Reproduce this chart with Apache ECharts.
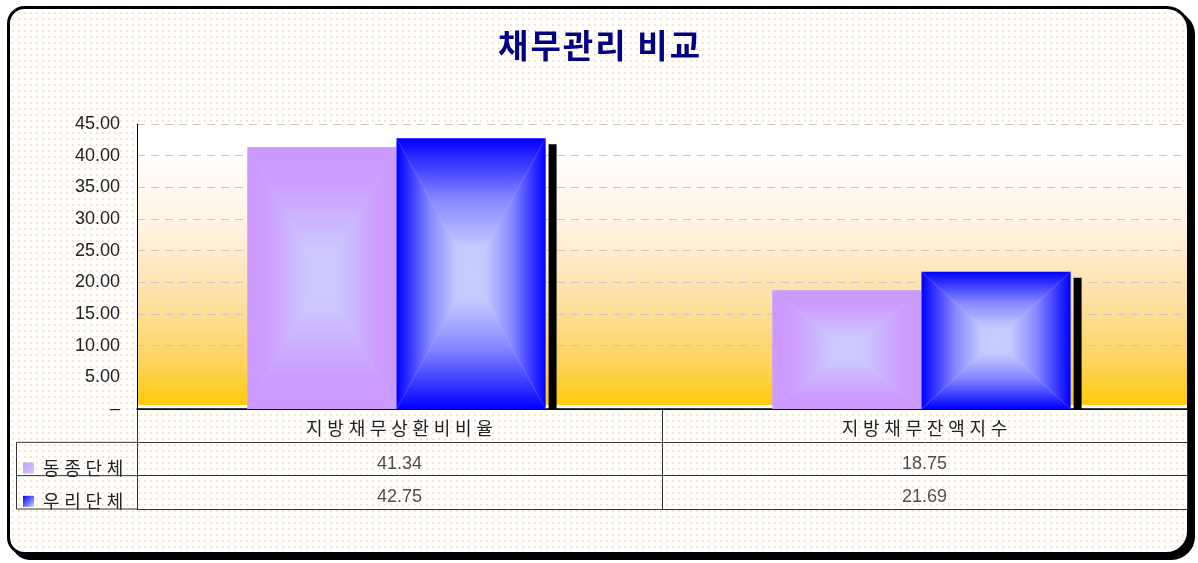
<!DOCTYPE html>
<html>
<head>
<meta charset="utf-8">
<script src="https://cdn.jsdelivr.net/npm/echarts@6/dist/echarts.min.js"></script>
<style>
  html, body { margin: 0; padding: 0; background: #fff; }
  #main { width: 1198px; height: 563px; }
</style>
</head>
<body>
<div id="main"></div>
<script>
// 데이터
var categories = ["지방채무상환비비율", "지방채무잔액지수"];
var seriesNames = ["동종단체", "우리단체"];
var peerValues = [41.34, 18.75];
var ourValues = [42.75, 21.69];
var yMax = 45;
var yStep = 5;

var FONT = "Liberation Sans, Noto Sans CJK KR, sans-serif";
var KFONT = "Noto Sans CJK KR, sans-serif";

// 레이아웃
var plotLeft = 137, plotRight = 11, plotTop = 124, plotZero = 409;
var tableBottom = 509;
var legendColLeft = 16;
var rowH = (tableBottom - plotZero) / 3;

// 한글 자간
function spaced(s, gap) {
  return s.split("").join(gap || "\u2009\u200A");
}

// 배경 점 패턴
var dot = document.createElement("canvas");
dot.width = 6;
dot.height = 6;
var dctx = dot.getContext("2d");
dctx.fillStyle = "#ffffff";
dctx.fillRect(0, 0, 6, 6);
dctx.fillStyle = "#fde3bf";
dctx.fillRect(0, 0, 2, 2);

// 가장자리 -> 중심 색
function stops(list) {
  return list.map(function (s) { return { offset: s[0], color: s[1] }; });
}

// 사각 그라데이션 막대 (가장자리에서 중심점으로)
function boxBar(colorStops, center, side, shadow) {
  return function (params, api) {
    var idx = api.value(0);
    var val = api.value(1);
    var top = api.coord([idx, val]);
    var base = api.coord([idx, 0]);
    var band = api.size([1, 0])[0];
    var bw = band * 0.284;
    var L = top[0] - 3 + (side < 0 ? -bw : 0);
    var R = L + bw;
    var T = top[1];
    var B = base[1];
    var cx = (L + R) / 2;
    var cy = (T + B) / 2;
    var G = echarts.graphic.LinearGradient;
    var st = stops(colorStops);
    var children = [];
    if (shadow) {
      children.push({
        type: "rect",
        shape: { x: R + 3, y: T + 6, width: 8, height: B - T - 6 },
        style: { fill: "#000" },
      });
    }
    children.push({
      type: "rect",
      shape: { x: L, y: T, width: bw, height: B - T },
      style: { fill: center },
    });
    children.push({
      type: "polygon",
      shape: { points: [[L, T], [R, T], [cx, cy]] },
      style: { fill: new G(0, T, 0, cy, st, true) },
    });
    children.push({
      type: "polygon",
      shape: { points: [[L, B], [R, B], [cx, cy]] },
      style: { fill: new G(0, B, 0, cy, st, true) },
    });
    children.push({
      type: "polygon",
      shape: { points: [[L, T], [cx, cy], [L, B]] },
      style: { fill: new G(L, 0, cx, 0, st, true) },
    });
    children.push({
      type: "polygon",
      shape: { points: [[R, T], [cx, cy], [R, B]] },
      style: { fill: new G(R, 0, cx, 0, st, true) },
    });
    return { type: "group", children: children };
  };
}

var peerData = peerValues.map(function (v, i) { return [i, v]; });
var ourData = ourValues.map(function (v, i) { return [i, v]; });

// 표 안의 값
var tableData = [];
categories.forEach(function (c, i) {
  tableData.push([i, seriesNames[0], peerValues[i]]);
  tableData.push([i, seriesNames[1], ourValues[i]]);
});

var frame = { x: 8.5, y: 7.5, width: 1180, height: 546, r: [16, 22, 22, 16] };

var chart = echarts.init(document.getElementById("main"));
chart.setOption({
  animation: false,
  backgroundColor: "#fff",
  title: {
    text: spaced("채무관리 비교", "\u200A"),
    left: "center",
    top: 24,
    textStyle: { fontSize: 33, fontWeight: "bold", color: "#000080", fontFamily: KFONT },
  },
  legend: {
    data: seriesNames,
    orient: "vertical",
    left: legendColLeft + 2,
    top: plotZero + rowH + rowH / 2 - 5,
    itemWidth: 11,
    itemHeight: 11,
    itemGap: rowH - 18,
    icon: "rect",
    formatter: function (n) { return spaced(n); },
    textStyle: { fontSize: 18, color: "#222", fontFamily: KFONT, padding: [0, 0, 0, 4] },
  },
  graphic: [
    {
      type: "rect",
      z: -101,
      shape: { x: frame.x + 5, y: frame.y + 5, width: frame.width, height: frame.height, r: frame.r },
      style: { fill: "#000", stroke: "#000", lineWidth: 3 },
    },
    {
      type: "rect",
      z: -100,
      shape: frame,
      style: {
        fill: { image: dot, repeat: "repeat" },
        stroke: "#000",
        lineWidth: 3,
      },
    },
    {
      type: "rect",
      z: 10,
      shape: { x: legendColLeft + 0.5, y: plotZero + rowH, width: plotLeft - legendColLeft, height: rowH * 2 },
      style: { fill: "none", stroke: "#333", lineWidth: 1 },
    },
    {
      type: "line",
      z: 10,
      shape: { x1: legendColLeft, y1: plotZero + rowH * 2, x2: plotLeft, y2: plotZero + rowH * 2 },
      style: { stroke: "#333", lineWidth: 1 },
    },
  ],
  grid: [
    {
      left: plotLeft,
      right: plotRight,
      top: plotTop,
      height: plotZero - plotTop,
      show: true,
      borderWidth: 0,
      backgroundColor: new echarts.graphic.LinearGradient(0, 0, 0, 1, [
        { offset: 0, color: "#ffffff" },
        { offset: 0.1, color: "#ffffff" },
        { offset: 0.35, color: "#fff3e3" },
        { offset: 0.6, color: "#fee1a8" },
        { offset: 0.82, color: "#fed563" },
        { offset: 0.985, color: "#ffcb0c" },
        { offset: 0.986, color: "#ffffff" },
        { offset: 1, color: "#ffffff" },
      ]),
    },
    {
      left: plotLeft,
      right: plotRight,
      top: plotZero,
      height: tableBottom - plotZero,
    },
  ],
  xAxis: [
    {
      type: "category",
      gridIndex: 0,
      data: categories,
      axisLine: { lineStyle: { color: "#000", width: 1.5 } },
      axisTick: { show: false },
      axisLabel: {
        margin: 10,
        fontSize: 18,
        color: "#222",
        fontFamily: KFONT,
        formatter: function (v) { return spaced(v); },
      },
    },
    {
      type: "category",
      gridIndex: 1,
      data: categories,
      axisLine: { lineStyle: { color: "#333" } },
      axisTick: { show: false },
      axisLabel: { show: false },
      splitLine: { show: true, lineStyle: { color: "#333" } },
    },
  ],
  yAxis: [
    {
      type: "value",
      gridIndex: 0,
      min: 0,
      max: yMax,
      interval: yStep,
      axisLine: { show: true, lineStyle: { color: "#000" } },
      axisTick: { show: false },
      axisLabel: {
        margin: 17,
        fontSize: 18,
        color: "#222",
        fontFamily: FONT,
        formatter: function (v) { return v === 0 ? "–" : v.toFixed(2); },
      },
      splitLine: { lineStyle: { color: "#c8c8c8", type: [8, 6] } },
    },
    {
      type: "category",
      gridIndex: 1,
      inverse: true,
      data: [""].concat(seriesNames),
      axisLine: { show: true, lineStyle: { color: "#333" } },
      axisTick: { show: false },
      axisLabel: { show: false },
      splitLine: { show: true, lineStyle: { color: "#333" } },
    },
  ],
  series: [
    {
      name: seriesNames[0],
      type: "custom",
      xAxisIndex: 0,
      yAxisIndex: 0,
      encode: { x: 0, y: 1 },
      itemStyle: {
        color: new echarts.graphic.LinearGradient(0, 0, 1, 1, [
          { offset: 0, color: "#cc99ff" },
          { offset: 1, color: "#ccccff" },
        ]),
      },
      renderItem: boxBar([[0, "#cc99ff"], [0.25, "#cc9cff"], [0.8, "#ccc8ff"], [1, "#ccccff"]], "#ccccff", -1, false),
      data: peerData,
    },
    {
      name: seriesNames[1],
      type: "custom",
      xAxisIndex: 0,
      yAxisIndex: 0,
      encode: { x: 0, y: 1 },
      itemStyle: {
        color: new echarts.graphic.LinearGradient(0, 0, 1, 1, [
          { offset: 0, color: "#0000ff" },
          { offset: 1, color: "#c8ccff" },
        ]),
      },
      renderItem: boxBar([[0, "#0000ff"], [0.45, "#8587ff"], [0.8, "#c4c8ff"], [1, "#c8ccff"]], "#c8ccff", 1, true),
      data: ourData,
    },
    {
      name: "table",
      type: "scatter",
      xAxisIndex: 1,
      yAxisIndex: 1,
      symbolSize: 1,
      itemStyle: { color: "rgba(0,0,0,0)" },
      label: {
        show: true,
        position: "inside",
        offset: [0, 5],
        fontSize: 18,
        color: "#222",
        fontFamily: FONT,
        formatter: function (p) { return p.value[2].toFixed(2); },
      },
      data: tableData,
    },
  ],
});
</script>
</body>
</html>
